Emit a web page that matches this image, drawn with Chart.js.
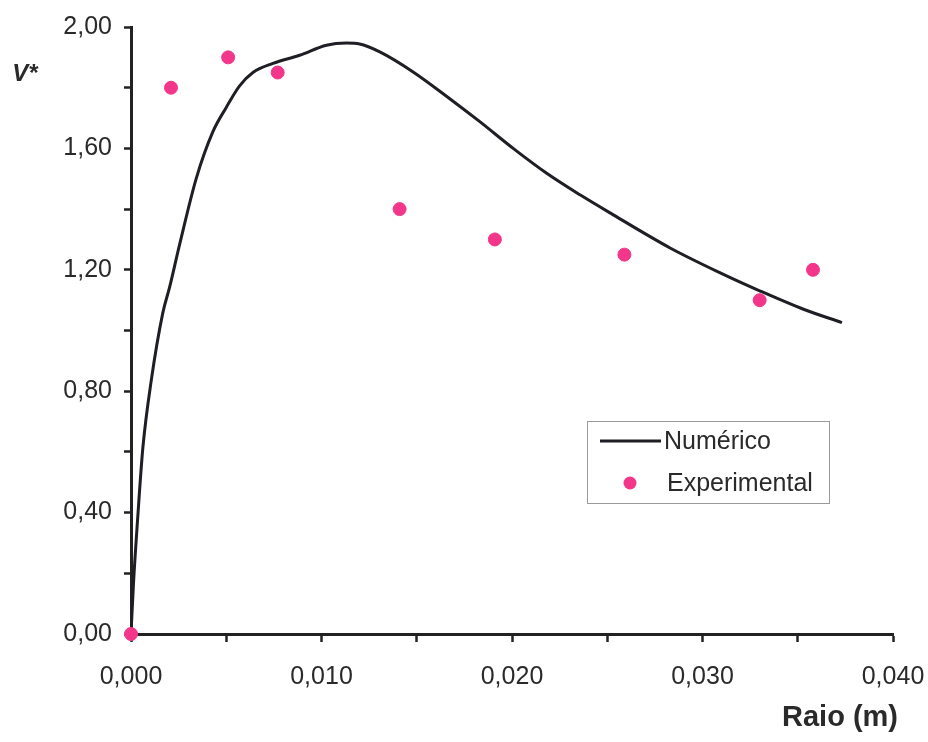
<!DOCTYPE html>
<html>
<head>
<meta charset="utf-8">
<script src="https://cdn.jsdelivr.net/npm/chart.js@4.4.0/dist/chart.umd.min.js"></script>
<style>
  html, body { margin: 0; padding: 0; background: #fff; }
  canvas { display: block; }
</style>
</head>
<body>
<canvas id="vChart" width="928" height="742"></canvas>
<script>
// Numerical curve (raio in m, V*)
const numX = [0, 0.00013, 0.00036, 0.00062, 0.00106, 0.00167, 0.00202, 0.00255, 0.00343, 0.0043,
  0.005, 0.0057, 0.0064, 0.00745, 0.00885, 0.01026, 0.01131, 0.0120, 0.01306, 0.01481,
  0.01656, 0.01831, 0.02006, 0.02182, 0.02357, 0.02532, 0.0283, 0.03093, 0.03303, 0.0353, 0.03732];
const numY = [0, 0.166, 0.39, 0.612, 0.834, 1.058, 1.141, 1.283, 1.502, 1.655,
  1.735, 1.806, 1.850, 1.880, 1.907, 1.940, 1.947, 1.944, 1.918, 1.852,
  1.772, 1.688, 1.600, 1.518, 1.447, 1.381, 1.272, 1.190, 1.130, 1.070, 1.026];

// Experimental points
const expX = [0, 0.0021, 0.0051, 0.0077, 0.0141, 0.0191, 0.0259, 0.0330, 0.0358];
const expY = [0, 1.80, 1.90, 1.85, 1.40, 1.30, 1.25, 1.10, 1.20];

const seriesNames = ['Numérico', 'Experimental'];
const xTitle = 'Raio (m)';
const yTitle = 'V*';

const FONT = "'Liberation Sans', Arial, sans-serif";
const lineColor = '#1e1e24';
const dotColor = '#f2378a';

const toPts = (xs, ys) => xs.map((x, i) => ({ x: x, y: ys[i] }));

// draws the boxed legend inside the plot and the two axis titles
const extras = {
  id: 'extras',
  afterDraw(chart) {
    const c = chart.ctx;
    c.save();
    // legend box
    c.strokeStyle = '#9a9a9a';
    c.lineWidth = 1;
    c.strokeRect(587.5, 421.5, 242, 82);
    c.font = '25px ' + FONT;
    c.fillStyle = '#2a2a2a';
    c.textBaseline = 'middle';
    c.textAlign = 'left';
    c.strokeStyle = lineColor;
    c.lineWidth = 3;
    c.beginPath();
    c.moveTo(600, 441);
    c.lineTo(661, 441);
    c.stroke();
    c.fillText(seriesNames[0], 664, 442);
    c.fillStyle = dotColor;
    c.beginPath();
    c.arc(630, 483, 6.5, 0, Math.PI * 2);
    c.fill();
    c.fillStyle = '#2a2a2a';
    c.fillText(seriesNames[1], 667, 484);
    // axis titles
    c.font = 'bold italic 24px ' + FONT;
    c.textAlign = 'center';
    c.fillText(yTitle, 25, 74);
    c.font = 'bold 29px ' + FONT;
    c.fillText(xTitle, 840, 718);
    c.restore();
  }
};

new Chart(document.getElementById('vChart'), {
  type: 'scatter',
  data: {
    datasets: [{
      label: seriesNames[1],
      data: toPts(expX, expY),
      backgroundColor: dotColor,
      borderColor: dotColor,
      pointRadius: 6.5,
      pointHoverRadius: 6.5,
      clip: false,
      order: 0
    }, {
      label: seriesNames[0],
      data: toPts(numX, numY),
      showLine: true,
      borderColor: lineColor,
      borderWidth: 3,
      pointRadius: 0,
      cubicInterpolationMode: 'monotone',
      order: 1
    }]
  },
  options: {
    responsive: false,
    animation: false,
    layout: { padding: { top: 24, right: 0, left: 0, bottom: 0 } },
    plugins: { legend: { display: false }, tooltip: { enabled: false } },
    scales: {
      x: {
        type: 'linear',
        min: 0,
        max: 0.04,
        afterFit: (s) => { s.height = 108; s.paddingRight = 35; s.paddingLeft = 0; },
        ticks: {
          stepSize: 0.005,
          padding: 20,
          color: '#2a2a2a',
          font: { family: FONT, size: 25 },
          maxRotation: 0,
          callback: (v) => Math.round(v * 1000) % 10 === 0 ? v.toFixed(3).replace('.', ',') : ''
        },
        grid: { drawOnChartArea: false, drawTicks: true, tickLength: 8, tickWidth: 2.5, tickColor: '#222' },
        border: { display: true, color: '#222', width: 3 }
      },
      y: {
        min: 0,
        max: 2,
        afterFit: (s) => { s.width = 131; },
        ticks: {
          stepSize: 0.2,
          padding: 12,
          color: '#2a2a2a',
          font: { family: FONT, size: 25 },
          callback: (v) => Math.round(v * 10) % 4 === 0 ? v.toFixed(2).replace('.', ',') : ''
        },
        grid: { drawOnChartArea: false, drawTicks: true, tickLength: 7, tickWidth: 2.5, tickColor: '#222' },
        border: { display: true, color: '#222', width: 3 }
      }
    }
  },
  plugins: [extras]
});
</script>
</body>
</html>
